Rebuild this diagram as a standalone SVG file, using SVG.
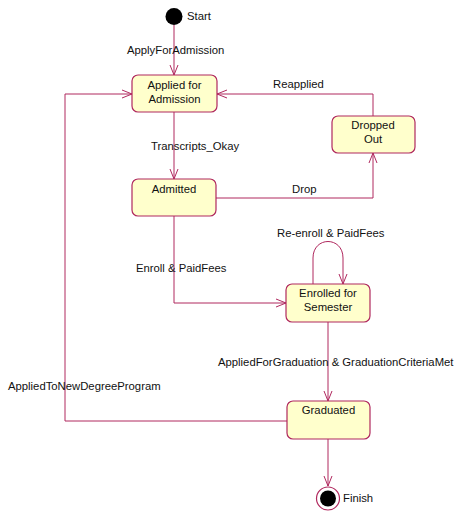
<svg xmlns="http://www.w3.org/2000/svg" width="454" height="512" viewBox="0 0 454 512">
  <style>
    .state rect { fill: #ffffcc; stroke: #b0285e; stroke-width: 1.2; }
    text { font-family: "Liberation Sans", Arial, sans-serif; font-size: 11.3px; fill: #111; }
    .name { text-anchor: middle; }
    .edge { fill: none; stroke: #b0285e; stroke-width: 1; }
  </style>
  <defs>
    <marker id="open" viewBox="0 0 10 10" refX="10" refY="5" markerWidth="10" markerHeight="10" markerUnits="userSpaceOnUse" orient="auto">
      <path d="M0,1 L10,5 L0,9" fill="none" stroke="#b0285e" stroke-width="1"/>
    </marker>
  </defs>
  <rect width="454" height="512" fill="#ffffff"/>

  <g id="connectors">
    <path class="edge" d="M174,25 V75" marker-end="url(#open)"/>
    <path class="edge" d="M174,112 V179" marker-end="url(#open)"/>
    <path class="edge" d="M373,116 V94 H217" marker-end="url(#open)"/>
    <path class="edge" d="M216,198 H373 V153" marker-end="url(#open)"/>
    <path class="edge" d="M174,216 V303 H286" marker-end="url(#open)"/>
    <path class="edge" d="M313,284 V258 C313,236 343,236 343,258 V284" marker-end="url(#open)"/>
    <path class="edge" d="M328,322 V401" marker-end="url(#open)"/>
    <path class="edge" d="M287,421 H65 V94 H132" marker-end="url(#open)"/>
    <path class="edge" d="M328,439 V486" marker-end="url(#open)"/>
    <text x="127" y="54">ApplyForAdmission</text>
    <text x="151" y="150">Transcripts_Okay</text>
    <text x="273" y="88">Reapplied</text>
    <text x="292" y="193">Drop</text>
    <text x="136" y="272">Enroll &amp; PaidFees</text>
    <text x="277" y="237">Re-enroll &amp; PaidFees</text>
    <text x="218" y="366">AppliedForGraduation &amp; GraduationCriteriaMet</text>
    <text x="8" y="390">AppliedToNewDegreeProgram</text>
  </g>

  <g id="start">
    <circle cx="174" cy="16.5" r="8.5" fill="#000"/>
    <text x="187" y="20">Start</text>
  </g>

  <g id="applied" class="state">
    <rect x="132" y="75" width="85" height="37" rx="6"/>
    <text class="name" x="174.5" y="89">Applied for</text>
    <text class="name" x="174.5" y="103">Admission</text>
  </g>

  <g id="admitted" class="state">
    <rect x="132" y="179" width="84" height="37" rx="6"/>
    <text class="name" x="174" y="193">Admitted</text>
  </g>

  <g id="dropped" class="state">
    <rect x="332" y="116" width="83" height="37" rx="6"/>
    <text class="name" x="373" y="129">Dropped</text>
    <text class="name" x="373" y="143">Out</text>
  </g>

  <g id="enrolled" class="state">
    <rect x="286" y="284" width="84" height="38" rx="6"/>
    <text class="name" x="328" y="297">Enrolled for</text>
    <text class="name" x="328" y="311">Semester</text>
  </g>

  <g id="graduated" class="state">
    <rect x="287" y="401" width="83" height="38" rx="6"/>
    <text class="name" x="328.5" y="414">Graduated</text>
  </g>

  <g id="finish">
    <circle cx="328" cy="498.5" r="11.5" fill="#fff" stroke="#b0285e" stroke-width="1.2"/>
    <circle cx="328" cy="498.5" r="8" fill="#000"/>
    <text x="343" y="502">Finish</text>
  </g>
</svg>
